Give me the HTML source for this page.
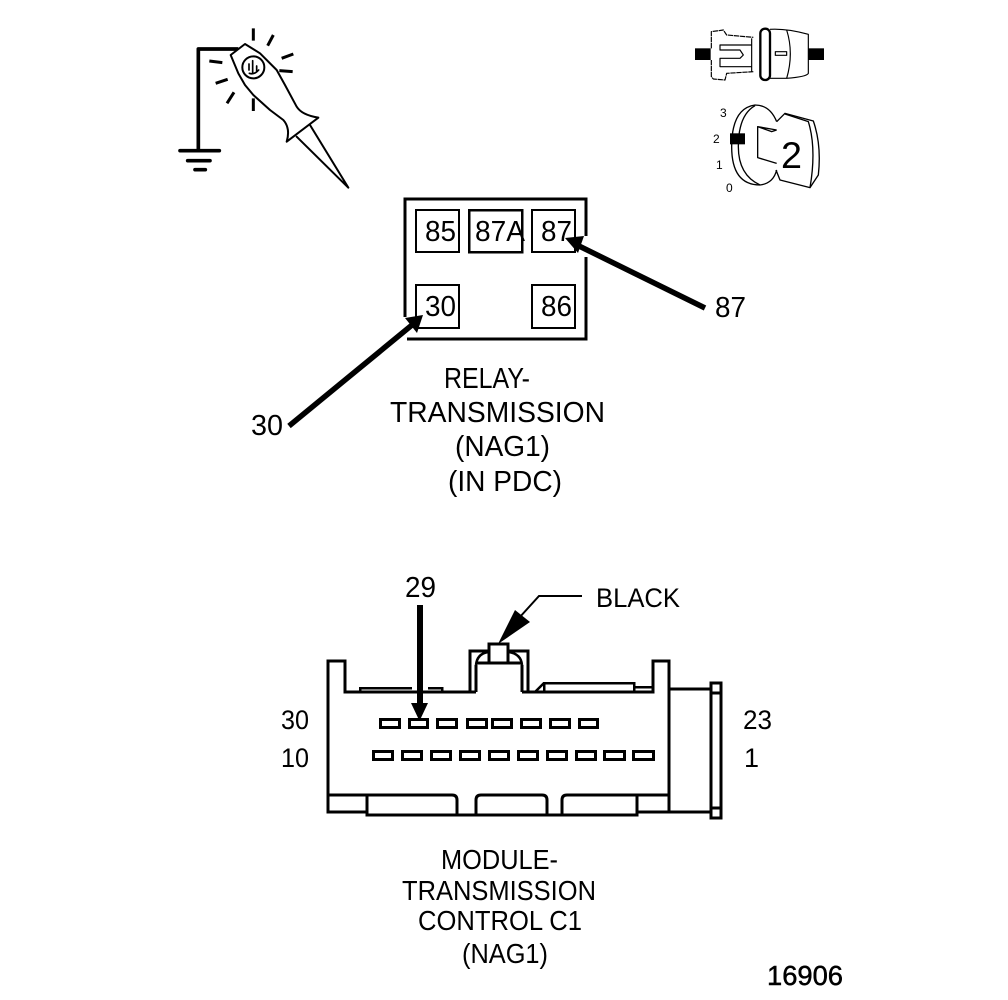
<!DOCTYPE html>
<html><head><meta charset="utf-8"><style>
html,body{margin:0;padding:0;background:#fff}
svg{display:block}
text{font-family:"Liberation Sans",sans-serif;fill:#000}
.l{font-size:29px}
.s{font-size:28px}
.b{font-size:27px}
</style></head><body>
<svg width="1008" height="1000" viewBox="0 0 1008 1000" xmlns="http://www.w3.org/2000/svg">
<rect width="1008" height="1000" fill="#fff"/>

<!-- Probe -->
<g transform="translate(160,20) scale(0.33333)" fill="none" stroke="#000" stroke-linecap="round" stroke-linejoin="round">
<path d="M235,87 H115 V390" stroke-width="11" stroke-linecap="butt"/>
<path d="M60,392 H178 M83,422 H150 M105,449 H136" stroke-width="11"/>
<path d="M280,25V62M340,45L323,77M400,102L365,115M398,155L358,152M148,123L187,128M203,178L167,190M222,217L201,250M280,235V273" stroke-width="9" stroke-linecap="butt"/>
<path d="M212,105L255,72L300,100L350,150L375,195L410,260Q425,285 475,293L380,365Q392,325 370,300L330,270L280,225L255,195L235,160Z" fill="#fff" stroke-width="6"/>
<path d="M450,315L565,503L410,350" stroke-width="6"/>
<circle cx="280" cy="142" r="33" stroke-width="6"/>
<path d="M267,150V132M278,158V122M268,160Q283,165 296,150M290,138V155" stroke-width="5"/>
</g>

<!-- Connector icon -->
<g transform="translate(680,15) scale(0.33333)" fill="none" stroke="#000" stroke-width="3.5" stroke-linejoin="round">
<rect x="45" y="100" width="47" height="35" fill="#000" stroke="none"/>
<rect x="385" y="100" width="47" height="35" fill="#000" stroke="none"/>
<path d="M94,100V50L130,45L140,60L220,67M94,135V185L100,192L135,195L140,175L220,170" stroke-dasharray="16 2"/>
<path d="M215,90H120V105H180L190,120L180,130H120V155H215"/>
<path d="M215,70V170"/>
<rect x="241" y="41" width="29" height="154" rx="14" stroke-width="7"/>
<path d="M270,43Q320,40 385,58V175Q380,185 320,190H270"/>
<path d="M320,45Q342,115 320,190"/>
<rect x="286" y="110" width="34" height="11"/>
</g>

<!-- Key icon -->
<g transform="translate(680,15) scale(0.33333)" fill="none" stroke="#000" stroke-width="4" stroke-linejoin="round">
<path d="M290,320Q270,270 225,270Q155,280 155,395Q155,510 240,510Q280,505 290,465"/>
<path d="M225,272Q175,300 175,395Q175,480 240,510"/>
<path d="M290,345L233,335V428L290,445M233,335L275,350L290,345"/>
<path d="M290,320L315,295L400,318Q425,390 415,480L390,518L300,495L288,465"/>
<path d="M315,297L385,320Q410,400 390,518"/>
<rect x="150" y="355" width="45" height="33" fill="#000" stroke="none"/>
</g>
<text x="720" y="117" style="font-size:12px">3</text>
<text x="713" y="143" style="font-size:12px">2</text>
<text x="716" y="169" style="font-size:12px">1</text>
<text x="726" y="192" style="font-size:12px">0</text>
<text x="781" y="168" style="font-size:37px" textLength="21" lengthAdjust="spacingAndGlyphs">2</text>

<!-- Relay -->
<g fill="none" stroke="#000" stroke-width="3" shape-rendering="crispEdges">
<path d="M405,317V199H586V236M586,257V339H407"/>
<rect x="416" y="210" width="43" height="42" stroke-width="2"/>
<rect x="469" y="210" width="53" height="42" stroke-width="2.5"/>
<rect x="532" y="210" width="43" height="42" stroke-width="2"/>
<rect x="416" y="285" width="43" height="43" stroke-width="2"/>
<rect x="532" y="285" width="43" height="43" stroke-width="2"/>
</g>
<text class="l" x="425" y="241" textLength="31" lengthAdjust="spacingAndGlyphs">85</text>
<text class="l" x="475" y="241" textLength="50" lengthAdjust="spacingAndGlyphs">87A</text>
<text class="l" x="541" y="241" textLength="31" lengthAdjust="spacingAndGlyphs">87</text>
<text class="l" x="425" y="316" textLength="31" lengthAdjust="spacingAndGlyphs">30</text>
<text class="l" x="541" y="316" textLength="31" lengthAdjust="spacingAndGlyphs">86</text>

<path d="M705,308L577,245" stroke="#000" stroke-width="5.5"/>
<polygon points="565,238 584,236 578,253" fill="#000"/>
<path d="M289,426L412,325" stroke="#000" stroke-width="5.5"/>
<polygon points="423,315 417,333 405,318" fill="#000"/>

<text class="l" x="715" y="317" textLength="31" lengthAdjust="spacingAndGlyphs">87</text>
<text class="l" x="251" y="435" textLength="32" lengthAdjust="spacingAndGlyphs">30</text>

<text class="l" x="444" y="388" textLength="86" lengthAdjust="spacingAndGlyphs">RELAY-</text>
<text class="l" x="390" y="422" textLength="215" lengthAdjust="spacingAndGlyphs">TRANSMISSION</text>
<text class="l" x="455" y="456" textLength="95" lengthAdjust="spacingAndGlyphs">(NAG1)</text>
<text class="l" x="448" y="491" textLength="114" lengthAdjust="spacingAndGlyphs">(IN PDC)</text>

<!-- Module -->
<g fill="none" stroke="#000" stroke-width="3" shape-rendering="crispEdges">
<path d="M476,692H345V661H328V812H367"/>
<path d="M328,795H367"/>
<path d="M360,692V688H412M428,688H442V692" stroke-width="2.5"/>
<path d="M470,692V651H528V692M522,692H653V661H669V812M669,812H711M637,812H669"/>
<path d="M476,692V665M522,692V665M476,663H522"/>
<path d="M544,692V683H634V692M634,687H653" stroke-width="2.5"/>
<rect x="489" y="644" width="19" height="19" fill="#fff"/>
<path d="M669,689H711"/>
<rect x="711" y="683" width="10" height="135"/>
<path d="M711,693H721M711,808H721"/>
<path d="M367,795V815H637V795M637,795H669"/>
</g>
<path d="M367,795H452Q457,795 457,800V815M476,815V800Q476,795 481,795H542Q547,795 547,800V815M562,815V800Q562,795 567,795H637" fill="none" stroke="#000" stroke-width="3"/>
<path d="M476,665Q477,654 488,652M522,665Q521,654 509,652M535,692L544,683" fill="none" stroke="#000" stroke-width="2.5"/>

<g fill="none" stroke="#000" stroke-width="3" shape-rendering="crispEdges">
<rect x="380.5" y="719.5" width="19" height="8"/>
<rect x="409.5" y="719.5" width="18" height="8"/>
<rect x="437.5" y="719.5" width="19" height="8"/>
<rect x="467.5" y="719.5" width="19" height="8"/>
<rect x="492.5" y="719.5" width="19" height="8"/>
<rect x="521.5" y="719.5" width="19" height="8"/>
<rect x="550.5" y="719.5" width="19" height="8"/>
<rect x="579.5" y="719.5" width="18" height="8"/>
<rect x="373.5" y="751.5" width="19" height="8"/>
<rect x="402.5" y="751.5" width="19" height="8"/>
<rect x="431.5" y="751.5" width="19" height="8"/>
<rect x="460.5" y="751.5" width="19" height="8"/>
<rect x="489.5" y="751.5" width="19" height="8"/>
<rect x="518.5" y="751.5" width="19" height="8"/>
<rect x="547.5" y="751.5" width="19" height="8"/>
<rect x="576.5" y="751.5" width="19" height="8"/>
<rect x="604.5" y="751.5" width="20" height="8"/>
<rect x="633.5" y="751.5" width="20" height="8"/>
</g>

<rect x="417" y="605" width="6" height="100" fill="#000"/>
<polygon points="411,703 428,703 419.5,721" fill="#000"/>
<polygon points="498,644 515,610 530,622" fill="#000"/>
<path d="M519,618L539,596H582" fill="none" stroke="#000" stroke-width="2"/>

<text class="l" x="405" y="597" textLength="31" lengthAdjust="spacingAndGlyphs">29</text>
<text class="b" x="596" y="607" textLength="84" lengthAdjust="spacingAndGlyphs">BLACK</text>
<text class="b" x="281" y="729" textLength="28" lengthAdjust="spacingAndGlyphs">30</text>
<text class="b" x="281" y="767" textLength="28" lengthAdjust="spacingAndGlyphs">10</text>
<text class="b" x="743" y="729" textLength="29" lengthAdjust="spacingAndGlyphs">23</text>
<text class="b" x="744" y="767">1</text>

<text class="s" x="441" y="869" textLength="117" lengthAdjust="spacingAndGlyphs">MODULE-</text>
<text class="s" x="402" y="900" textLength="194" lengthAdjust="spacingAndGlyphs">TRANSMISSION</text>
<text class="s" x="418" y="930" textLength="164" lengthAdjust="spacingAndGlyphs">CONTROL C1</text>
<text class="s" x="462" y="963" textLength="86" lengthAdjust="spacingAndGlyphs">(NAG1)</text>

<text x="767" y="985" style="font-size:28px;stroke:#000;stroke-width:.5" textLength="76" lengthAdjust="spacingAndGlyphs">16906</text>
</svg>
</body></html>
